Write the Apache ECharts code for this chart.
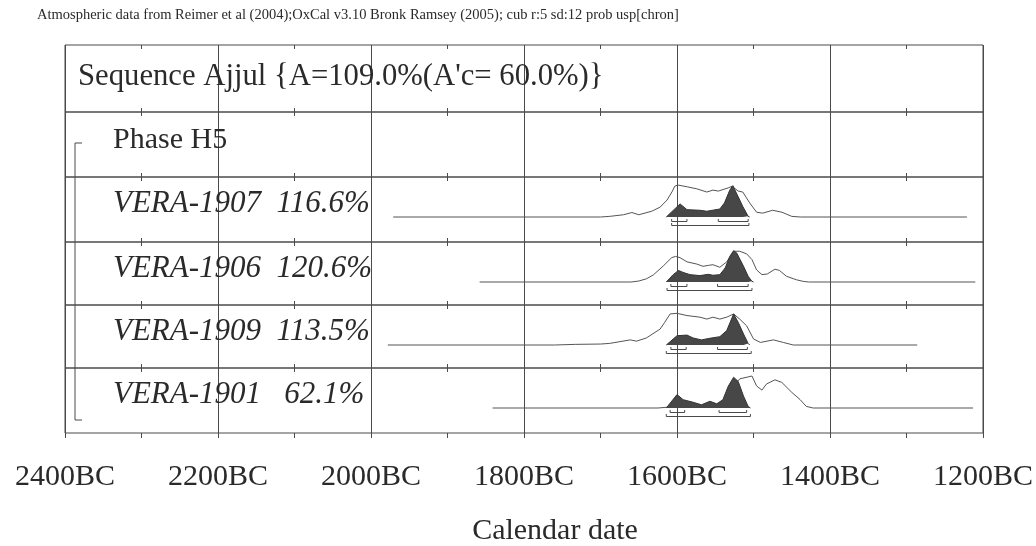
<!DOCTYPE html>
<html>
<head>
<meta charset="utf-8">
<title>Sequence Ajjul</title>
<script src="https://cdn.jsdelivr.net/npm/echarts@6/dist/echarts.min.js"></script>
<style>
  html, body { margin: 0; padding: 0; background: #fff; }
  #chart { width: 1036px; height: 546px; }
</style>
</head>
<body>
<div id="chart"></div>
<script>
// ---- data ----
const headerText = 'Atmospheric data from Reimer et al (2004);OxCal v3.10 Bronk Ramsey (2005); cub r:5 sd:12 prob usp[chron]'
const sequenceLabel = "Sequence Ajjul {A=109.0%(A'c= 60.0%)}"
const phaseLabel = 'Phase H5'
const xAxisTitle = 'Calendar date'
const tickYears = [2400, 2200, 2000, 1800, 1600, 1400, 1200]

const sampleNames = ['VERA-1907', 'VERA-1906', 'VERA-1909', 'VERA-1901']
const agreements = ['116.6%', '120.6%', '113.5%', '62.1%']

// unmodelled distributions: [year BC, relative probability]
const prior1907 = [[1971, 0], [1700, 0], [1688, 0.02], [1670, 0.07], [1659, 0.14], [1650, 0.07], [1633, 0.18], [1622, 0.31], [1613, 0.53], [1606, 0.81], [1603, 0.96], [1599, 1.0], [1586, 0.94], [1574, 0.88], [1561, 0.78], [1553, 0.84], [1546, 0.81], [1533, 0.91], [1528, 0.96], [1520, 0.81], [1514, 0.78], [1505, 0.44], [1496, 0.15], [1488, 0.12], [1475, 0.21], [1463, 0.15], [1450, 0.02], [1439, 0], [1221, 0]]
const prior1906 = [[1858, 0], [1660, 0], [1650, 0.03], [1640, 0.1], [1631, 0.22], [1618, 0.5], [1607, 0.76], [1602, 0.8], [1596, 0.76], [1587, 0.63], [1574, 0.56], [1566, 0.49], [1559, 0.52], [1553, 0.54], [1544, 0.46], [1535, 0.63], [1526, 0.96], [1518, 0.96], [1509, 0.88], [1502, 0.7], [1496, 0.38], [1489, 0.23], [1482, 0.25], [1472, 0.4], [1466, 0.36], [1457, 0.18], [1444, 0.07], [1435, 0.02], [1428, 0], [1210, 0]]
const prior1909 = [[1978, 0], [1760, 0], [1733, 0.02], [1700, 0.03], [1688, 0.05], [1661, 0.16], [1653, 0.12], [1640, 0.22], [1622, 0.5], [1616, 0.71], [1609, 0.97], [1600, 0.99], [1587, 0.92], [1570, 0.87], [1561, 0.81], [1553, 0.87], [1544, 0.81], [1535, 0.87], [1526, 0.97], [1518, 0.81], [1509, 0.6], [1500, 0.19], [1491, 0.08], [1474, 0.16], [1461, 0.08], [1448, 0], [1286, 0]]
const prior1901 = [[1841, 0], [1625, 0], [1600, 0.05], [1570, 0.06], [1545, 0.1], [1530, 0.4], [1522, 0.8], [1518, 0.91], [1502, 1.0], [1496, 0.69], [1489, 0.56], [1483, 0.75], [1472, 0.88], [1463, 0.8], [1450, 0.49], [1439, 0.26], [1431, 0.05], [1422, 0], [1213, 0]]

// modelled (posterior) distributions
const post1907 = [[1614, 0], [1607, 0.16], [1596, 0.41], [1587, 0.23], [1570, 0.21], [1561, 0.18], [1544, 0.25], [1538, 0.44], [1531, 0.84], [1527, 0.98], [1520, 0.63], [1514, 0.33], [1507, 0.02], [1505, 0]]
const post1906 = [[1614, 0], [1605, 0.23], [1598, 0.36], [1592, 0.3], [1583, 0.23], [1570, 0.2], [1559, 0.24], [1553, 0.21], [1544, 0.23], [1537, 0.44], [1531, 0.8], [1526, 0.98], [1522, 0.91], [1513, 0.49], [1507, 0.18], [1502, 0.02], [1500, 0]]
const post1909 = [[1614, 0], [1600, 0.29], [1587, 0.31], [1579, 0.22], [1568, 0.16], [1557, 0.21], [1544, 0.26], [1535, 0.45], [1526, 0.97], [1520, 0.71], [1513, 0.34], [1507, 0.05], [1505, 0]]
const post1901 = [[1614, 0], [1600, 0.42], [1592, 0.26], [1579, 0.18], [1568, 0.1], [1557, 0.21], [1548, 0.13], [1540, 0.26], [1533, 0.68], [1526, 0.96], [1520, 0.83], [1513, 0.37], [1507, 0.05], [1504, 0]]

// highest posterior density ranges, [from BC, to BC]
const range68_1907 = [[1607, 1587], [1546, 1507]]
const range95_1907 = [[1607, 1506]]
const range68_1906 = [[1608, 1587], [1547, 1507]]
const range95_1906 = [[1613, 1502]]
const range68_1909 = [[1608, 1588], [1547, 1508]]
const range95_1909 = [[1614, 1503]]
const range68_1901 = [[1609, 1590], [1545, 1509]]
const range95_1901 = [[1614, 1504]]

const priors = [prior1907, prior1906, prior1909, prior1901]
const posteriors = [post1907, post1906, post1909, post1901]
const ranges68 = [range68_1907, range68_1906, range68_1909, range68_1901]
const ranges95 = [range95_1907, range95_1906, range95_1909, range95_1901]

// ---- layout ----
const FONT = '"Liberation Serif", "Times New Roman", serif'
const INK = '#2a2a2a'
const LINE = '#4a4a4a'
const FILL = '#474747'

const GRID_LEFT = 65
const GRID_RIGHT = 53
const ROW_TOPS = [45, 112, 177, 242, 305, 368]
const PLOT_BOTTOM = 433
const BASELINE = 40     // px from row top to the distribution baseline
const PEAK_PX = 32      // px height of a relative probability of 1
const SAMPLE_ROW0 = 2   // first row holding a sample

const X_MIN = Math.min(...tickYears)
const X_MAX = Math.max(...tickYears)
const X_STEP = tickYears[0] - tickYears[1]

function rowHeight(i) {
  return (i + 1 < ROW_TOPS.length ? ROW_TOPS[i + 1] : PLOT_BOTTOM) - ROW_TOPS[i]
}

function buildAxes() {
  const xAxis = []
  const yAxis = []
  const last = ROW_TOPS.length - 1
  ROW_TOPS.forEach((top, i) => {
    const common = {
      type: 'value',
      gridIndex: i,
      inverse: true,
      min: X_MIN,
      max: X_MAX,
      interval: X_STEP,
      axisLine: { show: false, onZero: false },
      minorTick: { show: true, splitNumber: 2, length: 4, lineStyle: { color: LINE, width: 1 } },
      axisTick: { show: true, inside: true, length: 4, lineStyle: { color: LINE, width: 1 } },
      axisLabel: { show: false },
    }
    xAxis.push({
      ...common,
      position: 'top',
      splitLine: { show: true, lineStyle: { color: LINE, width: 1 } },
    })
    xAxis.push({
      ...common,
      position: 'bottom',
      splitLine: { show: false },
      axisTick: { show: true, inside: i !== last, length: i === last ? 5 : 4, lineStyle: { color: LINE, width: 1 } },
      minorTick: { show: true, splitNumber: 2, length: i === last ? 5 : 4, lineStyle: { color: LINE, width: 1 } },
      axisLabel: {
        show: i === last,
        margin: 29,
        color: INK,
        fontFamily: FONT,
        fontSize: 30,
        formatter: v => v + 'BC',
      },
    })
    const h = rowHeight(i)
    const isSample = i >= SAMPLE_ROW0
    yAxis.push({
      type: 'value',
      gridIndex: i,
      show: false,
      min: isSample ? -(h - BASELINE) / PEAK_PX : 0,
      max: isSample ? BASELINE / PEAK_PX : 1,
    })
  })
  return { xAxis, yAxis }
}

function bracketSeries(range, level, axisIdx) {
  const lip = 2.5 / PEAK_PX
  return range.map(([a, b]) => ({
    type: 'line',
    xAxisIndex: axisIdx * 2,
    yAxisIndex: axisIdx,
    data: [[a, level + lip], [a, level], [b, level], [b, level + lip]],
    showSymbol: false,
    silent: true,
    lineStyle: { color: LINE, width: 1 },
    z: 4,
  }))
}

function buildSeries() {
  const series = []
  priors.forEach((prior, r) => {
    const g = r + SAMPLE_ROW0
    series.push({
      type: 'line',
      xAxisIndex: g * 2,
      yAxisIndex: g,
      data: prior,
      showSymbol: false,
      silent: true,
      lineStyle: { color: '#555', width: 1 },
      z: 2,
    })
    series.push({
      type: 'line',
      xAxisIndex: g * 2,
      yAxisIndex: g,
      data: posteriors[r],
      showSymbol: false,
      silent: true,
      lineStyle: { color: '#333', width: 1 },
      areaStyle: { color: FILL, opacity: 1 },
      z: 3,
    })
    series.push(...bracketSeries(ranges68[r], -4.5 / PEAK_PX, g))
    series.push(...bracketSeries(ranges95[r], -8.5 / PEAK_PX, g))
  })
  return series
}

function textEl(text, x, y, size, italic) {
  return {
    type: 'text',
    x,
    y,
    silent: true,
    z: 10,
    style: {
      text,
      fill: INK,
      fontFamily: FONT,
      fontSize: size,
      fontStyle: italic ? 'italic' : 'normal',
      align: 'left',
      verticalAlign: 'middle',
    },
  }
}

function buildGraphic() {
  const els = [
    textEl(headerText, 37, 15, 14.5, false),
    textEl(sequenceLabel, 78, ROW_TOPS[0] + 32, 30.7, false),
    textEl(phaseLabel, 113, ROW_TOPS[1] + 28, 30, false),
    {
      type: 'text',
      x: 555,
      y: 531,
      silent: true,
      style: { text: xAxisTitle, fill: INK, fontFamily: FONT, fontSize: 30, align: 'center', verticalAlign: 'middle' },
    },
    {
      type: 'polyline',
      silent: true,
      shape: {
        points: [
          [82, ROW_TOPS[1] + 31], [75, ROW_TOPS[1] + 31],
          [75, PLOT_BOTTOM - 13], [82, PLOT_BOTTOM - 13],
        ],
      },
      style: { stroke: LINE, lineWidth: 1, fill: null },
    },
  ]
  sampleNames.forEach((name, r) => {
    const label = name + '  ' + agreements[r].padStart(6, ' ')
    els.push(textEl(label, 113, ROW_TOPS[r + SAMPLE_ROW0] + 27, 31, true))
  })
  return els
}

function buildOption() {
  const { xAxis, yAxis } = buildAxes()
  return {
    backgroundColor: '#fff',
    animation: false,
    grid: ROW_TOPS.map((top, i) => ({
      left: GRID_LEFT,
      right: GRID_RIGHT,
      top,
      height: rowHeight(i),
      show: true,
      borderColor: LINE,
      borderWidth: 1,
      backgroundColor: 'transparent',
      containLabel: false,
      outerBoundsMode: 'none',
    })),
    xAxis,
    yAxis,
    series: buildSeries(),
    graphic: buildGraphic(),
  }
}

const chart = echarts.init(document.getElementById('chart'), null, { renderer: 'canvas' })
chart.setOption(buildOption())
</script>
</body>
</html>
